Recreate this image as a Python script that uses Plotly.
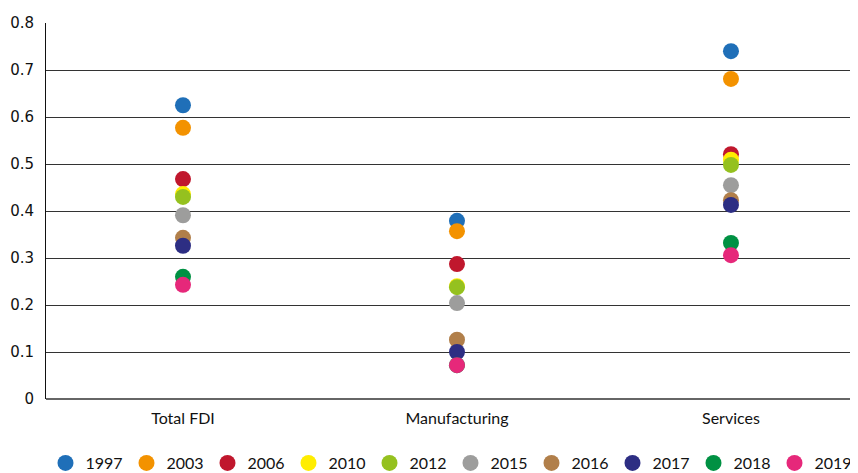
import plotly.graph_objects as go

categories = ["Total FDI", "Manufacturing", "Services"]
years = ["1997", "2003", "2006", "2010", "2012", "2015", "2016", "2017", "2018", "2019"]
v1997 = [0.625, 0.379, 0.740]
v2003 = [0.577, 0.357, 0.681]
v2006 = [0.468, 0.287, 0.521]
v2010 = [0.436, 0.240, 0.509]
v2012 = [0.430, 0.238, 0.498]
v2015 = [0.391, 0.204, 0.455]
v2016 = [0.343, 0.126, 0.423]
v2017 = [0.326, 0.100, 0.413]
v2018 = [0.260, 0.072, 0.332]
v2019 = [0.243, 0.072, 0.306]
series = [v1997, v2003, v2006, v2010, v2012, v2015, v2016, v2017, v2018, v2019]
colors = ["#1f6fb8", "#f39200", "#c0172d", "#ffed00", "#95c11f",
          "#9d9d9c", "#b17f4a", "#2d2e83", "#009143", "#e6287a"]
y_ticks = [0, 0.1, 0.2, 0.3, 0.4, 0.5, 0.6, 0.7, 0.8]

FONT = "Lato, sans-serif"

fig = go.Figure()
for yr, vals, col in zip(years, series, colors):
    fig.add_trace(go.Scatter(
        x=categories, y=vals, mode="markers", name=yr,
        marker=dict(color=col, size=16, line=dict(width=0)),
    ))

fig.update_layout(
    width=850, height=465,
    margin=dict(l=38, r=1, t=15, b=74, autoexpand=False),
    plot_bgcolor="white", paper_bgcolor="white",
    showlegend=True,
    legend=dict(orientation="h", xref="container", yref="container",
                x=0.0441, xanchor="left", y=0.0215, yanchor="middle",
                font=dict(family=FONT, size=16, color="#111"),
                itemsizing="trace", itemwidth=30, tracegroupgap=0,
                entrywidth=36, entrywidthmode="pixels",
                borderwidth=0),
    xaxis=dict(
        type="category", range=[-0.5, 2.46], automargin=False,
        showgrid=False, showline=False, zeroline=False, ticks="",
        tickfont=dict(family=FONT, size=16, color="#111"),
        ticklabelstandoff=8,
    ),
    yaxis=dict(
        range=[0, 0.8], tickvals=y_ticks, ticktext=[("%g" % t) for t in y_ticks],
        automargin=False,
        showgrid=True, gridcolor="#333", gridwidth=1,
        zeroline=True, zerolinecolor="#666", zerolinewidth=2,
        showline=True, linecolor="#111", linewidth=1,
        ticks="", tickfont=dict(family="DejaVu Sans, sans-serif", size=15, color="#111"),
        ticklabelstandoff=8,
    ),
)

fig.write_html("out.html")
